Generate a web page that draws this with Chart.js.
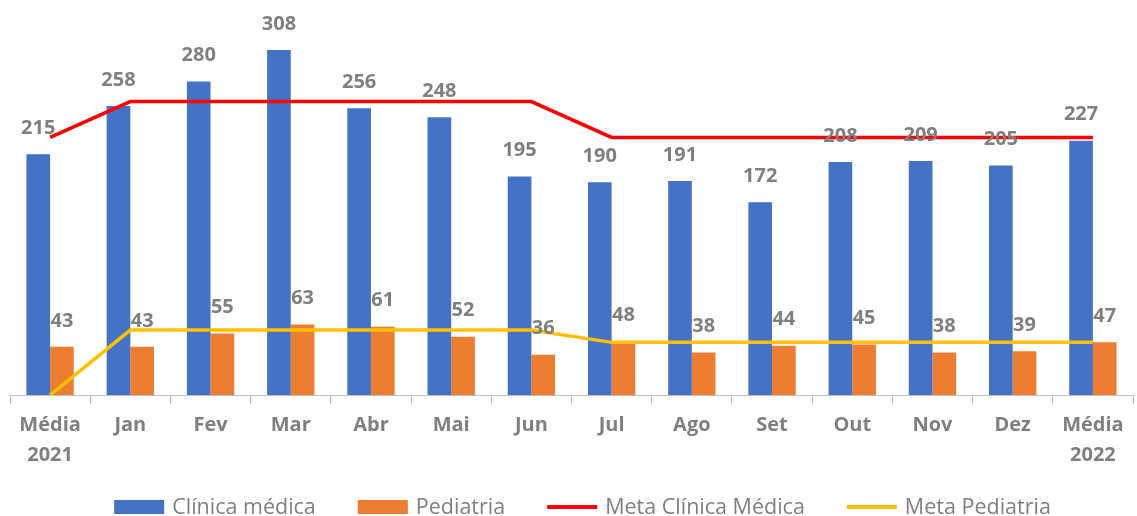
<!DOCTYPE html>
<html>
<head>
<meta charset="utf-8">
<script src="https://cdn.jsdelivr.net/npm/chart.js@4"></script>
<style>
  html, body { margin: 0; padding: 0; background: #fff; }
  #wrap { width: 1137px; height: 516px; }
</style>
</head>
<body>
<div id="wrap"><canvas id="chart"></canvas></div>
<script>
// categories
var labels = [['Média', '2021'], 'Jan', 'Fev', 'Mar', 'Abr', 'Mai', 'Jun', 'Jul', 'Ago', 'Set', 'Out', 'Nov', 'Dez', ['Média', '2022']];

// series
var clinica = [215, 258, 280, 308, 256, 248, 195, 190, 191, 172, 208, 209, 205, 227];
var pediatria = [43, 43, 55, 63, 61, 52, 36, 48, 38, 44, 45, 38, 39, 47];
var metaClinica = [230, 262, 262, 262, 262, 262, 262, 230, 230, 230, 230, 230, 230, 230];
var metaPediatria = [0, 58, 58, 58, 58, 58, 58, 47, 47, 47, 47, 47, 47, 47];

var grey = '#7f7f7f';
var fontFamily = '"Open Sans", "Noto Sans", sans-serif';

// value labels above the bars
var barLabels = {
    id: 'barLabels',
    afterDatasetsDraw: function(chart) {
        var ctx = chart.ctx;
        ctx.save();
        ctx.font = 'bold 20px ' + fontFamily;
        ctx.fillStyle = grey;
        ctx.textAlign = 'center';
        ctx.textBaseline = 'middle';
        chart.data.datasets.forEach(function(ds, i) {
            if (ds.type !== 'bar') return;
            chart.getDatasetMeta(i).data.forEach(function(bar, j) {
                ctx.fillText(ds.data[j], bar.x, bar.y - 26);
            });
        });
        ctx.restore();
    }
};

// legend row at the bottom
var bottomLegend = {
    id: 'bottomLegend',
    afterDraw: function(chart) {
        var ctx = chart.ctx;
        var y = 507, box = 50, gap = 8, spacing = 42;
        ctx.save();
        ctx.font = '21.5px ' + fontFamily;
        var items = chart.data.datasets.map(function(ds) {
            return { text: ds.label, color: ds.type === 'bar' ? ds.backgroundColor : ds.borderColor, bar: ds.type === 'bar', w: ctx.measureText(ds.label).width };
        });
        var total = 0;
        items.forEach(function(it, i) { total += box + gap + it.w + (i > 0 ? spacing : 0); });
        var x = (chart.width - total) / 2 + 14;
        ctx.textBaseline = 'middle';
        items.forEach(function(it) {
            if (it.bar) {
                ctx.fillStyle = it.color;
                ctx.fillRect(x, y - 7, box, 14);
            } else {
                ctx.strokeStyle = it.color;
                ctx.lineWidth = 4;
                ctx.beginPath();
                ctx.moveTo(x, y);
                ctx.lineTo(x + box, y);
                ctx.stroke();
            }
            ctx.fillStyle = grey;
            ctx.fillText(it.text, x + box + gap, y + 1);
            x += box + gap + it.w + spacing;
        });
        ctx.restore();
    }
};

var ctx = document.getElementById('chart').getContext('2d');
var chart = new Chart(ctx, {
    type: 'bar',
    data: {
        labels: labels,
        datasets: [{
            type: 'bar',
            label: 'Clínica médica',
            backgroundColor: '#4472C4',
            data: clinica,
            order: 1
        }, {
            type: 'bar',
            label: 'Pediatria',
            backgroundColor: '#ED7D31',
            data: pediatria,
            order: 1
        }, {
            type: 'line',
            label: 'Meta Clínica Médica',
            borderColor: '#FF0000',
            borderWidth: 3.5,
            pointRadius: 0,
            data: metaClinica,
            order: 0
        }, {
            type: 'line',
            label: 'Meta Pediatria',
            borderColor: '#FFC000',
            borderWidth: 3.5,
            pointRadius: 0,
            data: metaPediatria,
            order: 0
        }]
    },
    options: {
        responsive: true,
        maintainAspectRatio: false,
        animation: false,
        datasets: {
            bar: { categoryPercentage: 0.59, barPercentage: 1 }
        },
        layout: { padding: { left: 10, right: 4, top: 3, bottom: 40 } },
        plugins: {
            legend: { display: false },
            tooltip: { enabled: false }
        },
        scales: {
            x: {
                grid: { drawOnChartArea: false, tickLength: 9, color: '#bfbfbf' },
                border: { color: '#bfbfbf' },
                ticks: {
                    color: grey,
                    padding: 6,
                    maxRotation: 0,
                    autoSkip: false,
                    font: { family: fontFamily, size: 20, weight: 'bold', lineHeight: 1.5 }
                }
            },
            y: {
                display: false,
                min: 0,
                max: 350
            }
        }
    },
    plugins: [barLabels, bottomLegend]
});
</script>
</body>
</html>
